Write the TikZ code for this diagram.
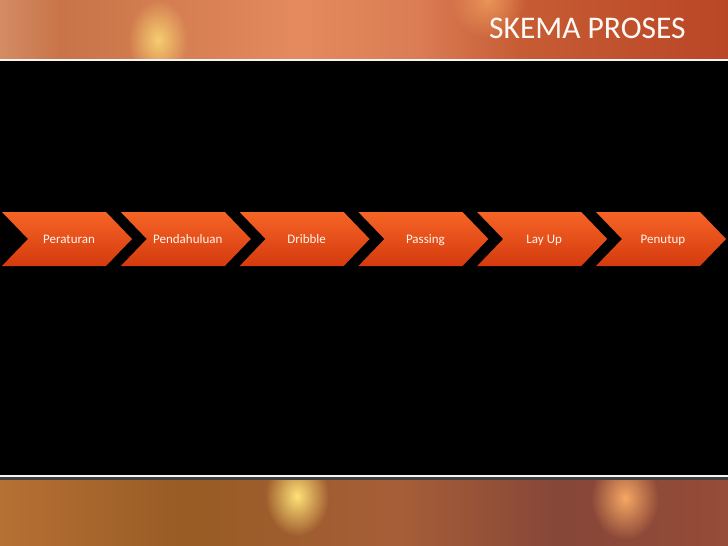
\documentclass[tikz,border=0pt]{standalone}
\usepackage{fontspec}
\setmainfont{Carlito}
\usetikzlibrary{fadings}

\definecolor{arrowtop}{RGB}{246,100,38}
\definecolor{arrowbottom}{RGB}{212,58,14}
\definecolor{topA}{RGB}{212,140,100}
\definecolor{topB}{RGB}{200,116,72}
\definecolor{topC}{RGB}{228,138,94}
\definecolor{topD}{RGB}{218,124,84}
\definecolor{topE}{RGB}{198,92,52}
\definecolor{topF}{RGB}{186,70,38}
\definecolor{botA}{RGB}{182,112,52}
\definecolor{botB}{RGB}{152,92,36}
\definecolor{botC}{RGB}{166,94,56}
\definecolor{botD}{RGB}{134,70,56}
\definecolor{botE}{RGB}{150,76,56}
\definecolor{glowyellow}{RGB}{255,226,120}
\definecolor{gloworange}{RGB}{246,168,100}

\tikzfading[name=glow fade, inner color=transparent!0, outer color=transparent!100]

\tikzset{
  step_arrow/.style={top color=arrowtop, bottom color=arrowbottom, draw=none},
  step_text/.style={text=white!92!orange, font=\fontsize{13}{15}\selectfont, anchor=base},
  title_text/.style={text=white!96!orange, font=\fontsize{31.5}{34}\selectfont, anchor=base west, inner sep=0pt},
  glow/.style={path fading=glow fade},
}

\begin{document}
\begin{tikzpicture}[x=1pt, y=-1pt]
    \useasboundingbox (0,0) rectangle (728,546);
    \fill[black] (0,0) rectangle (728,546);

    % top band
    \begin{scope}
        \clip (0,0) rectangle (728,59);
        \shade[left color=topA, right color=topB] (0,0) rectangle (60,59);
        \shade[left color=topB, right color=topC] (60,0) rectangle (300,59);
        \shade[left color=topC, right color=topD] (300,0) rectangle (420,59);
        \shade[left color=topD, right color=topE] (420,0) rectangle (520,59);
        \shade[left color=topE, right color=topF] (520,0) rectangle (728,59);
        \fill[glowyellow, glow, opacity=0.8] (158,40) ellipse (30pt and 40pt);
        \fill[gloworange, glow, opacity=0.7] (488,0) circle (38pt);
    \end{scope}
    \fill[white!92!gray] (0,59) rectangle (728,61);

    % title
    \node[title_text] (title) at (489,38.5) {SKEMA PROSES};

    % process steps
    \foreach \i/\steptext in {0/Peraturan, 1/Pendahuluan, 2/Dribble, 3/Passing, 4/Lay Up, 5/Penutup} {
        \pgfmathsetmacro\xo{2+118.8*\i}
        \path[step_arrow] (\xo,212) -- ++(104,0) -- ++(26,27) -- ++(-26,27) -- ++(-104,0) -- ++(26,-27) -- cycle;
        \node[step_text] (step\i) at (\xo+67,243.5) {\steptext};
    }

    % bottom band
    \fill[white!92!gray] (0,475) rectangle (728,477);
    \fill[black!75] (0,477) rectangle (728,480);
    \begin{scope}
        \clip (0,480) rectangle (728,546);
        \shade[left color=botA, right color=botB] (0,480) rectangle (180,546);
        \shade[left color=botB, right color=botC] (180,480) rectangle (400,546);
        \shade[left color=botC, right color=botD] (400,480) rectangle (560,546);
        \shade[left color=botD, right color=botE] (560,480) rectangle (728,546);
        \fill[glowyellow, glow] (297,496) ellipse (32pt and 40pt);
        \fill[gloworange, glow] (625,498) ellipse (34pt and 42pt);
    \end{scope}
\end{tikzpicture}
\end{document}
